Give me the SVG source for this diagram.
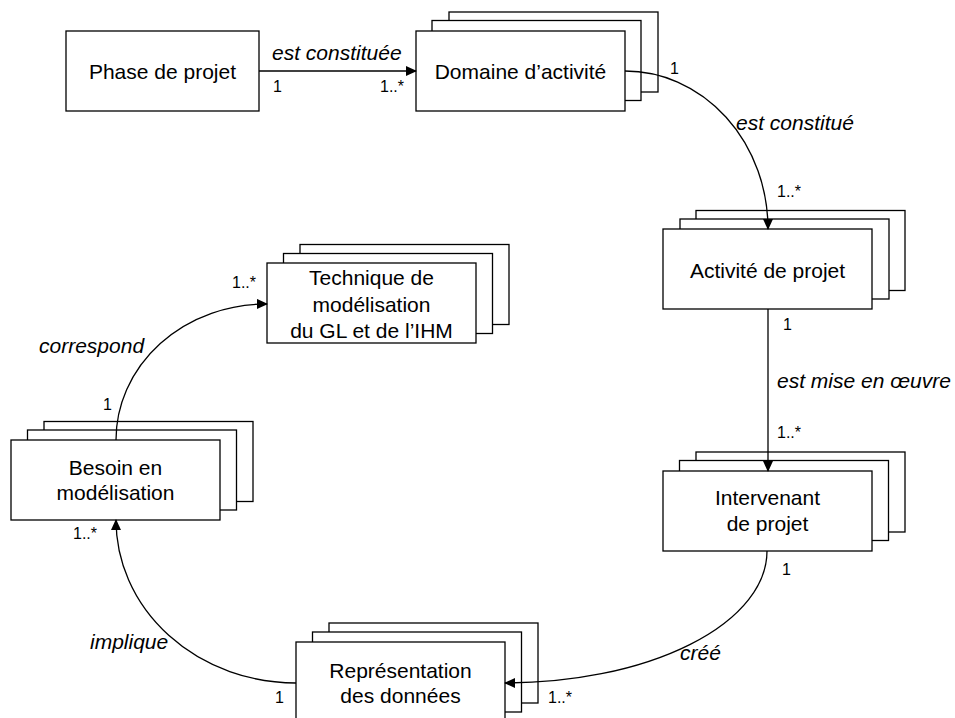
<svg xmlns="http://www.w3.org/2000/svg" width="955" height="718" viewBox="0 0 955 718">
<style>
.box{fill:#fff;stroke:#000;stroke-width:1.3}
.t{font-family:"Liberation Sans",Arial,sans-serif;font-size:21px;fill:#000;text-anchor:middle}
.lab{font-family:"Liberation Sans",Arial,sans-serif;font-size:21px;font-style:italic;fill:#000}
.m{font-family:"Liberation Sans",Arial,sans-serif;font-size:16px;fill:#000}
.c{fill:none;stroke:#000;stroke-width:1.3;marker-end:url(#arr)}
</style>
<defs>
<marker id="arr" markerUnits="userSpaceOnUse" markerWidth="11" markerHeight="10" refX="10" refY="5" orient="auto">
<path d="M0,0 L11,5 L0,10 z" fill="#000"/>
</marker>
</defs>
<rect width="955" height="718" fill="#fff"/>
<g id="phase">
<rect class="box" x="66" y="31" width="193" height="80"/>
<text class="t" x="162.5" y="79">Phase de projet</text>
</g>
<g id="domaine">
<rect class="box" x="449" y="12" width="209" height="80"/>
<rect class="box" x="432" y="20.5" width="209" height="80"/>
<rect class="box" x="416" y="31" width="209" height="80"/>
<text class="t" x="520.5" y="79">Domaine d’activité</text>
</g>
<g id="activite">
<rect class="box" x="696" y="210.5" width="209" height="80"/>
<rect class="box" x="680" y="219" width="209" height="80"/>
<rect class="box" x="663" y="229" width="209" height="80"/>
<text class="t" x="767.5" y="278">Activité de projet</text>
</g>
<g id="technique">
<rect class="box" x="300" y="244.5" width="209" height="80"/>
<rect class="box" x="283.5" y="253.5" width="209" height="80"/>
<rect class="box" x="267" y="263" width="209" height="80"/>
<text class="t" x="371.5" y="285">Technique de</text>
<text class="t" x="371.5" y="311.5">modélisation</text>
<text class="t" x="371.5" y="338">du GL et de l’IHM</text>
</g>
<g id="besoin">
<rect class="box" x="44" y="421.5" width="209" height="80"/>
<rect class="box" x="27.5" y="430" width="209" height="80"/>
<rect class="box" x="11" y="440" width="209" height="80"/>
<text class="t" x="115.5" y="475">Besoin en</text>
<text class="t" x="115.5" y="500">modélisation</text>
</g>
<g id="intervenant">
<rect class="box" x="696" y="452" width="209" height="80"/>
<rect class="box" x="679.5" y="460.5" width="209" height="80"/>
<rect class="box" x="663" y="471" width="209" height="80"/>
<text class="t" x="767.5" y="505">Intervenant</text>
<text class="t" x="767.5" y="530.5">de projet</text>
</g>
<g id="representation">
<rect class="box" x="329" y="623" width="209" height="80"/>
<rect class="box" x="312.5" y="632" width="209" height="80"/>
<rect class="box" x="296" y="642" width="209" height="80"/>
<text class="t" x="400.5" y="678">Représentation</text>
<text class="t" x="400.5" y="702.5">des données</text>
</g>
<g id="connectors">
<path class="c" d="M259,71 L416,71"/>
<path class="c" d="M625,71 A143,158 0 0 1 768,229"/>
<path class="c" d="M768,309 L768,471"/>
<path class="c" d="M767,551 A262,132 0 0 1 505,683"/>
<path class="c" d="M296,683 A180,163 0 0 1 116,520"/>
<path class="c" d="M116,440 A150,136 0 0 1 267,304"/>
</g>
<g id="labels">
<text class="lab" x="272" y="60">est constituée</text>
<text class="m" x="273" y="92">1</text>
<text class="m" x="380" y="92">1..*</text>
<text class="m" x="670" y="74">1</text>
<text class="lab" x="736" y="130">est constitué</text>
<text class="m" x="777" y="197">1..*</text>
<text class="m" x="783" y="330">1</text>
<text class="lab" x="777" y="388">est mise en œuvre</text>
<text class="m" x="777" y="438">1..*</text>
<text class="m" x="782" y="575">1</text>
<text class="lab" x="680" y="660">créé</text>
<text class="m" x="548" y="703">1..*</text>
<text class="m" x="275" y="703">1</text>
<text class="lab" x="90" y="649">implique</text>
<text class="m" x="73" y="539">1..*</text>
<text class="m" x="103" y="410">1</text>
<text class="lab" x="39" y="353">correspond</text>
<text class="m" x="232" y="288">1..*</text>
</g>
</svg>
